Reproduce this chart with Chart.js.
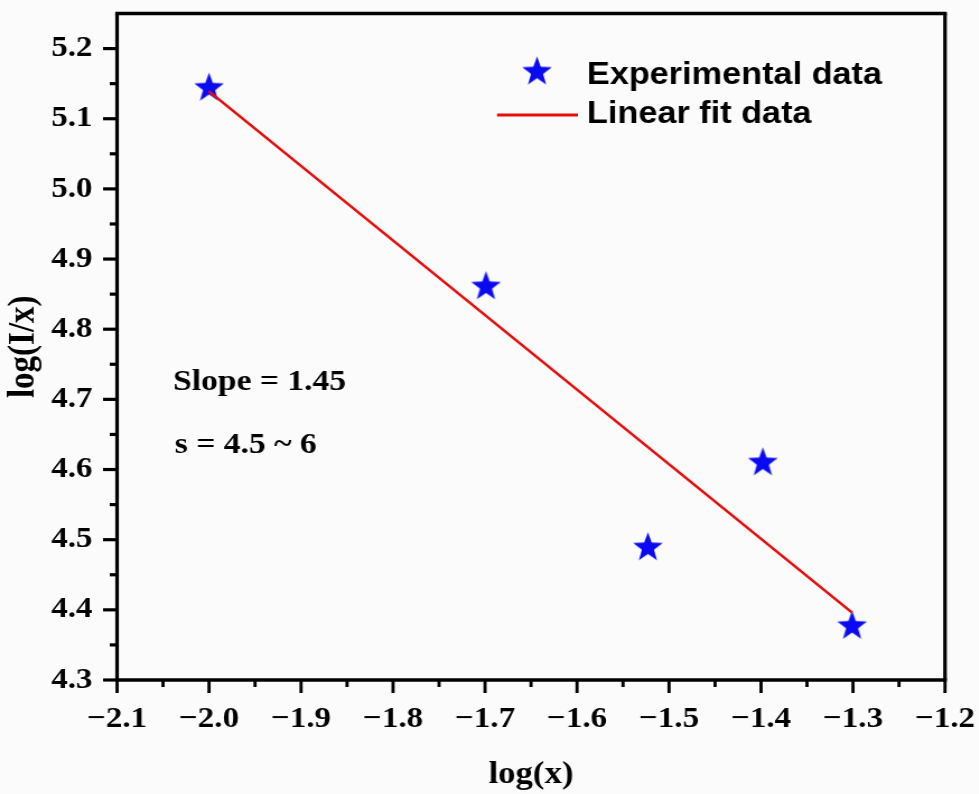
<!DOCTYPE html>
<html>
<head>
<meta charset="utf-8">
<title>log(I/x) vs log(x)</title>
<script src="https://cdn.jsdelivr.net/npm/chart.js@4.4.1/dist/chart.umd.min.js"></script>
<style>
  html, body { margin: 0; padding: 0; background: #fbfbfb; overflow: hidden; }
  /* the figure is drawn narrow and stretched sideways, like the exported plot */
  #wrap { width: 874px; height: 794px; transform: scaleX(1.12); transform-origin: 0 0; }
</style>
</head>
<body>
<div id="wrap"><canvas id="chart" width="874" height="794"></canvas></div>
<script>
// measured points
const logX = [-2.0, -1.699, -1.523, -1.398, -1.301]
const logIx = [5.145, 4.862, 4.490, 4.611, 4.378]

// end points of the fitted line
const fitX = [-2.0, -1.301]
const fitY = [5.139, 4.396]

const xTicks = [-2.1, -2.0, -1.9, -1.8, -1.7, -1.6, -1.5, -1.4, -1.3, -1.2]
const yTicks = [4.3, 4.4, 4.5, 4.6, 4.7, 4.8, 4.9, 5.0, 5.1, 5.2]

const notes = ['Slope = 1.45', 's = 4.5 ~ 6']

const SERIF = '"Liberation Serif", "Times New Roman", serif'
const SANS = '"Liberation Sans", Arial, sans-serif'
const STRETCH = 1.12
const BLUE = '#0a0af2'
const RED = '#e60d0d'

function fmt(v) {
  return v < 0 ? '\u2212' + Math.abs(v).toFixed(1) : v.toFixed(1)
}

// filled five point star, pre-squeezed so it comes out round after the stretch
function makeStar(r, color) {
  const w = Math.ceil(2 * r * Math.sin(2 * Math.PI / 5) / STRETCH) + 2
  const h = Math.ceil(r * (1 + Math.cos(Math.PI / 5))) + 2
  const c = document.createElement('canvas')
  c.width = w
  c.height = h
  const ctx = c.getContext('2d')
  ctx.translate(w / 2, 1 + r)
  ctx.scale(1 / STRETCH, 1)
  ctx.beginPath()
  for (let i = 0; i < 10; i++) {
    const rad = i % 2 ? r * 0.41 : r
    const a = -Math.PI / 2 + i * Math.PI / 5
    ctx.lineTo(rad * Math.cos(a), rad * Math.sin(a))
  }
  ctx.closePath()
  ctx.fillStyle = color
  ctx.fill()
  return c
}

const star = makeStar(15.5, BLUE)

function midpoints(ticks) {
  const out = []
  for (let i = 0; i < ticks.length - 1; i++) out.push((ticks[i] + ticks[i + 1]) / 2)
  return out
}

function seg(ctx, x1, y1, x2, y2) {
  ctx.beginPath()
  ctx.moveTo(x1, y1)
  ctx.lineTo(x2, y2)
  ctx.stroke()
}

// box, tick marks, legend and the slope notes
const frameAndNotes = {
  id: 'frameAndNotes',
  afterDraw(chart) {
    const { ctx, chartArea: a, scales: { x, y } } = chart
    ctx.save()
    ctx.strokeStyle = '#000'
    ctx.lineCap = 'butt'

    ctx.lineWidth = 3.2 / STRETCH
    xTicks.forEach(v => {
      const px = x.getPixelForValue(v)
      seg(ctx, px, a.bottom, px, a.bottom + 13)
    })
    midpoints(xTicks).forEach(v => {
      const px = x.getPixelForValue(v)
      seg(ctx, px, a.bottom, px, a.bottom + 7)
    })

    ctx.lineWidth = 3.2
    yTicks.forEach(v => {
      const py = y.getPixelForValue(v)
      seg(ctx, a.left - 12.5, py, a.left, py)
    })
    midpoints(yTicks).forEach(v => {
      const py = y.getPixelForValue(v)
      seg(ctx, a.left - 6.5, py, a.left, py)
    })

    // frame: horizontal edges a bit heavier than vertical ones before stretch
    ctx.lineWidth = 3.6
    seg(ctx, a.left - 1.6, a.top, a.right + 1.6, a.top)
    seg(ctx, a.left - 1.6, a.bottom, a.right + 1.6, a.bottom)
    ctx.lineWidth = 3.6 / STRETCH
    seg(ctx, a.left, a.top, a.left, a.bottom)
    seg(ctx, a.right, a.top, a.right, a.bottom)

    // legend
    ctx.drawImage(star, 479.5 - star.width / 2, 71 - star.height / 2)
    ctx.strokeStyle = RED
    ctx.lineWidth = 2.8
    seg(ctx, 443.8, 115, 516, 115)
    ctx.fillStyle = '#000'
    ctx.font = 'bold 30.6px ' + SANS
    ctx.textAlign = 'left'
    ctx.textBaseline = 'alphabetic'
    ctx.fillText('Experimental data', 524, 84)
    ctx.fillText('Linear fit data', 524, 123)

    // notes
    ctx.font = 'bold 30px ' + SERIF
    ctx.fillText(notes[0], 154.5, 390)
    ctx.fillText(notes[1], 156, 453)
    ctx.restore()
  }
}

const tickFont = { family: SERIF, size: 29.5, weight: 'bold' }

new Chart(document.getElementById('chart'), {
  type: 'scatter',
  data: {
    datasets: [
      {
        label: 'Linear fit data',
        data: fitX.map((v, i) => ({ x: v, y: fitY[i] })),
        showLine: true,
        borderColor: RED,
        borderWidth: 2.6,
        pointRadius: 0,
        order: 0
      },
      {
        label: 'Experimental data',
        data: logX.map((v, i) => ({ x: v, y: logIx[i] })),
        pointStyle: star,
        pointRadius: 12,
        order: 1
      }
    ]
  },
  options: {
    responsive: false,
    animation: false,
    devicePixelRatio: 1,
    layout: { padding: { left: 0, top: 13.5, right: 30.25, bottom: 0 } },
    plugins: {
      legend: { display: false },
      tooltip: { enabled: false }
    },
    scales: {
      x: {
        type: 'linear',
        min: -2.1,
        max: -1.2,
        afterBuildTicks: s => { s.ticks = xTicks.map(v => ({ value: v })) },
        afterFit: s => {
          s.height = 114
          s.paddingLeft = 0
          s.paddingRight = 0
        },
        grid: { display: false, drawTicks: false },
        border: { display: false },
        ticks: {
          font: tickFont,
          color: '#000',
          padding: 22,
          maxRotation: 0,
          autoSkip: false,
          callback: v => fmt(v)
        },
        title: {
          display: true,
          text: 'log(x)',
          color: '#000',
          font: { family: SERIF, size: 31, weight: 'bold' },
          padding: { top: 0, bottom: 0 }
        }
      },
      y: {
        type: 'linear',
        min: 4.3,
        max: 5.25,
        afterBuildTicks: s => { s.ticks = yTicks.map(v => ({ value: v })) },
        afterFit: s => {
          s.width = 104.5
          s.paddingTop = 0
          s.paddingBottom = 0
        },
        grid: { display: false, drawTicks: false },
        border: { display: false },
        ticks: {
          font: tickFont,
          color: '#000',
          padding: 22,
          autoSkip: false,
          callback: v => fmt(v)
        },
        title: {
          display: true,
          text: 'log(I/x)',
          color: '#000',
          font: { family: SERIF, size: 33, weight: 'bold' },
          padding: { top: 2, bottom: 0 }
        }
      }
    }
  },
  plugins: [frameAndNotes]
})
</script>
</body>
</html>
